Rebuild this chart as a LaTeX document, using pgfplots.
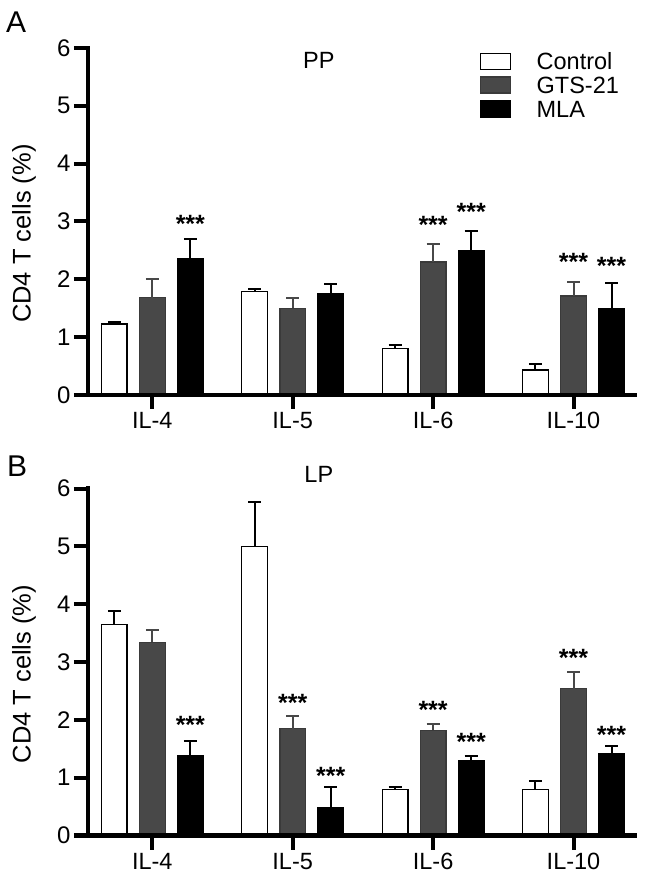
\documentclass[border=0pt]{standalone}
\usepackage{fontspec}
\setmainfont{Liberation Sans}
\usepackage{pgfplots}
\pgfplotsset{compat=1.18}
\definecolor{gts}{HTML}{484848}
\newcommand{\lbl}{\fontsize{23.5bp}{28bp}\selectfont}
\newcommand{\tkl}{\fontsize{24bp}{28bp}\selectfont}
\newcommand{\yl}{\fontsize{25.5bp}{30bp}\selectfont}
\newcommand{\starf}{\fontsize{25bp}{25bp}\selectfont\bfseries}
\pgfplotsset{
  panel/.style={
    width=547bp, height=347bp, scale only axis,
    anchor=south west, clip=false, axis on top,
    xmin=-0.458, xmax=3.438, ymin=0, ymax=6,
    axis x line*=bottom, axis y line*=left,
    axis line style={-, line width=4.5bp, line cap=rect},
    xtick={0,1,2,3}, xticklabels={IL-4,IL-5,IL-6,IL-10},
    ytick={0,1,2,3,4,5,6},
    tick align=outside, major tick length=14bp,
    tick style={line width=4bp, black},
    xticklabel style={font=\lbl},
    yticklabel style={font=\tkl},
    /pgf/number format/assume math mode=true,
    ylabel={CD4 T cells (\%)},
    ylabel style={font=\yl, at={(axis description cs:-0.117,0.465)}, anchor=center},
  },
  errs/.style={error bars/y dir=plus, error bars/y explicit,
    error bars/error mark=|,
    error bars/error bar style={line width=2bp, #1},
    error bars/error mark options={line width=2bp, mark size=6.5bp, #1}},
  ctrl/.style={ybar, bar width=0.183, bar shift=0, fill=white, draw=black, line width=1.3bp, errs=black},
  gtsb/.style={ybar, bar width=0.183, bar shift=0, fill=gts, draw=gts!80!black, line width=1.3bp, errs=gts},
  mla/.style={ybar, bar width=0.183, bar shift=0, fill=black, draw=black, line width=1.3bp, errs=black},
  stars/.style={draw=none, mark=none, nodes near coords={\starf ***},
    every node near coord/.style={anchor=base, yshift=-14bp, inner sep=0pt, black}},
}
\begin{document}
\begin{tikzpicture}
\path[use as bounding box] (0,0) rectangle (646bp,884bp);
% Panel A
\begin{axis}[panel, at={(88bp,489bp)},
  legend style={at={(axis description cs:0.716,0.988)}, anchor=north west,
    draw=none, fill=none, font=\lbl, inner sep=0pt, row sep=6bp, column sep=25bp,
    nodes={inner sep=0.5bp, text height=16.8bp, text depth=0bp}},
  legend cell align=left]
\addlegendimage{legend image code/.code={\draw[fill=white,draw=black,line width=1.3bp] (0bp,-8bp) rectangle (30bp,8bp);}}
\addlegendimage{legend image code/.code={\draw[fill=gts,draw=gts!80!black,line width=1.3bp] (0bp,-8bp) rectangle (30bp,8bp);}}
\addlegendimage{legend image code/.code={\draw[fill=black,draw=black,line width=1.3bp] (0bp,-8bp) rectangle (30bp,8bp);}}
\legend{Control,GTS-21,MLA}
% Control bars at category -0.271, GTS-21 at category, MLA at category +0.271
\addplot[forget plot, ctrl] coordinates {(-0.271,1.23)+-(0,0.04) (0.729,1.79)+-(0,0.04) (1.729,0.80)+-(0,0.06) (2.729,0.43)+-(0,0.10)};
\addplot[forget plot, gtsb] coordinates {(0,1.68)+-(0,0.33) (1,1.50)+-(0,0.17) (2,2.30)+-(0,0.31) (3,1.71)+-(0,0.25)};
\addplot[forget plot, mla] coordinates {(0.271,2.35)+-(0,0.35) (1.271,1.75)+-(0,0.17) (2.271,2.49)+-(0,0.35) (3.271,1.49)+-(0,0.45)};
\addplot[forget plot, stars] coordinates {(0.271,3.05) (2,3.03) (2.271,3.26) (3,2.39) (3.271,2.32)};
\node[font=\lbl] at (axis description cs:0.422,0.965) {PP};
\end{axis}
% Panel B
\begin{axis}[panel, at={(88bp,48.5bp)}]
\addplot[ctrl] coordinates {(-0.271,3.65)+-(0,0.23) (0.729,5.00)+-(0,0.76) (1.729,0.80)+-(0,0.04) (2.729,0.79)+-(0,0.15)};
\addplot[gtsb] coordinates {(0,3.34)+-(0,0.22) (1,1.85)+-(0,0.21) (2,1.82)+-(0,0.11) (3,2.54)+-(0,0.28)};
\addplot[mla] coordinates {(0.271,1.38)+-(0,0.25) (1.271,0.48)+-(0,0.36) (2.271,1.30)+-(0,0.07) (3.271,1.42)+-(0,0.12)};
\addplot[stars] coordinates {(0.271,2.01) (1,2.38) (1.271,1.12) (2,2.27) (2.271,1.72) (3,3.16) (3.271,1.83)};
\node[font=\lbl] at (axis description cs:0.422,1.040) {LP};
\end{axis}
\node[anchor=base west, inner sep=0pt, font=\fontsize{30bp}{31bp}\selectfont] at (6bp,851bp) {A};
\node[anchor=base west, inner sep=0pt, font=\fontsize{30bp}{31bp}\selectfont] at (7bp,407bp) {B};
\end{tikzpicture}
\end{document}
